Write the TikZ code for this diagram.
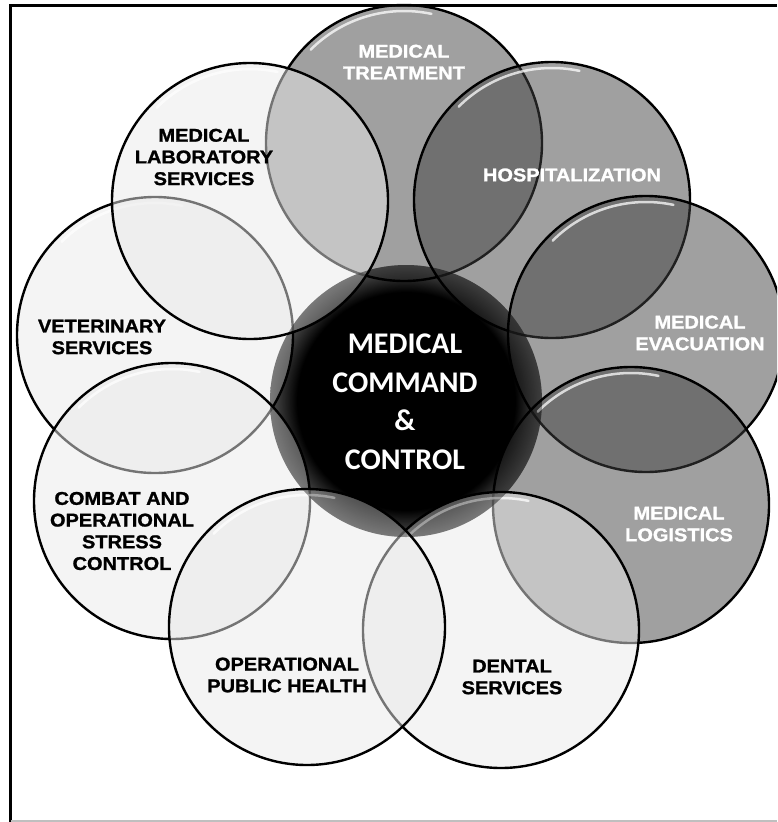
\documentclass[tikz,border=0pt]{standalone}
\usepackage{fontspec}
\newfontfamily\blkfont[FakeStretch=1.08,FakeBold=1.3]{Liberation Sans Bold}
\newfontfamily\ctrfont{Carlito}
\usetikzlibrary{calc}
\definecolor{darkfill}{gray}{0.255}
\definecolor{lightfill}{gray}{0.914}
\pgfdeclareradialshading{ctrshade}{\pgfpoint{0bp}{0bp}}{color(0bp)=(black); color(20bp)=(black); color(25bp)=(black!55!white); color(50bp)=(black!55!white)}
\begin{document}
\begin{tikzpicture}[x=1pt,y=-1pt,
  ring/.style={draw=black, line width=2.4pt, fill opacity=0.5},
  darkring/.style={ring, fill=darkfill},
  lightring/.style={ring, fill=lightfill},
  lbl/.style={font=\blkfont\fontsize{18.5}{21.7}\selectfont, align=center, inner sep=0pt},
  wl/.style={lbl, text=white},
  bl/.style={lbl, text=black},
  shine/.style={white, line width=2.5pt, opacity=0.75, line cap=round}]
\useasboundingbox (0,0) rectangle (777,822);
\clip (0,0) rectangle (777,822);
% frame
\draw[black, line width=3pt] (10.5,822) -- (10.5,5) -- (777,5);
\draw[black!25, line width=2pt] (10.5,821) -- (777,821);
% circle centres
\coordinate (ctr) at (406,401);
\coordinate (t) at (404,143);
\coordinate (h) at (552,200);
\coordinate (e) at (646,334);
\coordinate (l) at (631,505);
\coordinate (d) at (501,630);
\coordinate (o) at (307,627);
\coordinate (c) at (172,501);
\coordinate (v) at (155,335);
\coordinate (b) at (250,201);
% centre disc
\shade[shading=ctrshade] (ctr) circle[radius=136pt];
% outer circles
\foreach \n/\s in {t/darkring,h/darkring,e/darkring,l/darkring,d/lightring,v/lightring,c/lightring,o/lightring,b/lightring}{
  \path[\s] (\n) circle[radius=138pt];
  \draw[shine] ($(\n)+(135:132pt)$) arc[start angle=135, end angle=78, radius=132pt];
}
% veil over centre
\fill[black, fill opacity=0.3] (ctr) circle[radius=136pt];
% labels
\node[wl] (tl) at (404,62) {MEDICAL\\TREATMENT};
\node[wl] (hl) at (572,175) {HOSPITALIZATION};
\node[wl] (el) at (700,333) {MEDICAL\\EVACUATION};
\node[wl] (ll) at (679,524) {MEDICAL\\LOGISTICS};
\node[bl] (dl) at (512,677) {DENTAL\\SERVICES};
\node[bl] (ol) at (287,675) {OPERATIONAL\\PUBLIC HEALTH};
\node[bl] (cl) at (122,531) {COMBAT AND\\OPERATIONAL\\STRESS\\CONTROL};
\node[bl] (vl) at (102,337) {VETERINARY\\SERVICES};
\node[bl] (bll) at (204,157) {MEDICAL\\LABORATORY\\SERVICES};
\node[font=\ctrfont\bfseries\fontsize{30}{38.5}\selectfont, text=white, align=center, inner sep=0pt] (cc) at (405,402) {MEDICAL\\COMMAND\\\&\\CONTROL};
\end{tikzpicture}
\end{document}
